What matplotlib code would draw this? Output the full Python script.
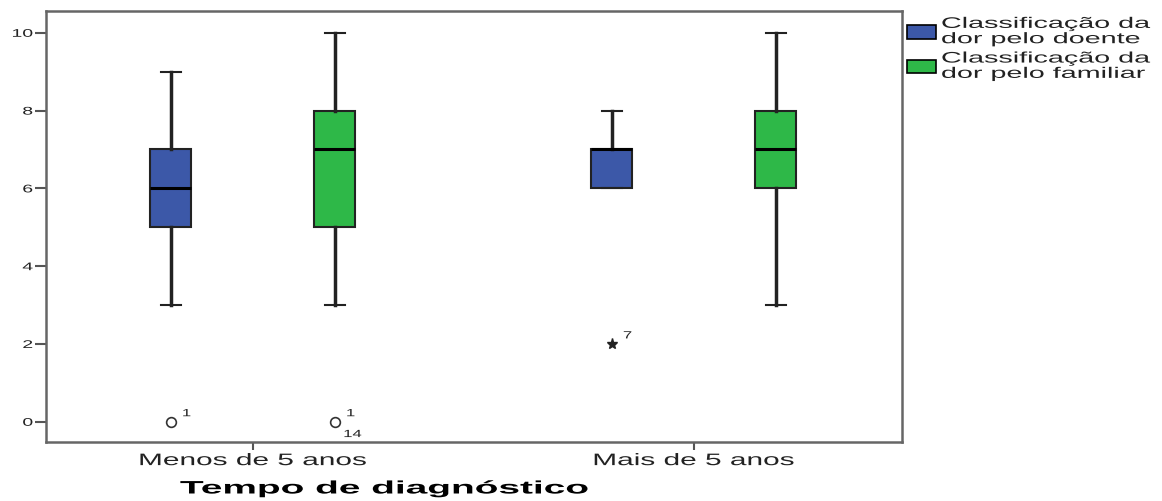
import matplotlib
matplotlib.use('Agg')
import matplotlib.pyplot as plt
from matplotlib.patches import Patch
from matplotlib.patheffects import AbstractPathEffect
from matplotlib.transforms import Affine2D

plt.rcParams['font.family'] = ['Liberation Sans', 'DejaVu Sans']

groups = ['Menos de 5 anos', 'Mais de 5 anos']
series = ['Classificação da\ndor pelo doente', 'Classificação da\ndor pelo familiar']
colors = ['#3c58a8', '#2eb848']

# [whislo, q1, med, q3, whishi] per group, per series
doente = [[3, 5, 6, 7, 9], [6, 6, 7, 7, 8]]
familiar = [[3, 5, 7, 8, 10], [3, 6, 7, 8, 10]]

# outliers: (group, series, value, marker, case labels)
outliers = [(0, 0, 0, 'o', ['1']), (0, 1, 0, 'o', ['1', '14']), (1, 0, 2, '*', ['7'])]


class StretchX(AbstractPathEffect):
    # the source chart has horizontally stretched lettering
    def __init__(self, sx, anchor='center'):
        super().__init__()
        self.sx = sx
        self.anchor = anchor

    def draw_path(self, renderer, gc, tpath, affine, rgbFace=None):
        ext = tpath.get_extents()
        if self.anchor == 'left':
            cx = 0
        elif self.anchor == 'right':
            cx = ext.x1
        else:
            cx = (ext.x0 + ext.x1) / 2
        t = Affine2D().translate(-cx, 0).scale(self.sx, 1).translate(cx, 0) + affine
        renderer.draw_path(gc, tpath, t, rgbFace)


offset = 0.186
width = 0.093

fig = plt.figure(figsize=(11.62, 5.02), dpi=100)
ax = fig.add_axes([46/1162, 1-443/502, (902-46)/1162, (443-12)/502])

for s, data in enumerate([doente, familiar]):
    stats = []
    pos = []
    for g, v in enumerate(data):
        stats.append({'whislo': v[0], 'q1': v[1], 'med': v[2], 'q3': v[3], 'whishi': v[4]})
        pos.append(g + (s - 0.5) * 2 * offset)
    ax.bxp(stats, positions=pos, widths=width, showfliers=False, patch_artist=True,
           boxprops=dict(facecolor=colors[s], edgecolor='#222222', linewidth=1.5),
           medianprops=dict(color='black', linewidth=2.2),
           whiskerprops=dict(color='#222222', linewidth=2.5),
           capprops=dict(color='#222222', linewidth=1.5),
           capwidths=width*0.5, manage_ticks=False)

small = [StretchX(1.6, 'left')]
for g, s, val, mk, labs in outliers:
    x = g + (s - 0.5) * 2 * offset
    if mk == 'o':
        ax.plot(x, val, marker='o', markersize=7, markerfacecolor='white',
                markeredgecolor='#333333', markeredgewidth=1.2, linestyle='none')
    else:
        ax.plot(x, val, marker='*', markersize=8, color='#222222', linestyle='none')
    ax.annotate(labs[0], (x, val), xytext=(8, 4), textcoords='offset points',
                fontsize=7.5, color='#222222', path_effects=small)
    if len(labs) > 1:
        ax.annotate(labs[1], (x, val), xytext=(6, -11), textcoords='offset points',
                    fontsize=7.5, color='#222222', path_effects=small)

ax.set_xlim(-0.469, 1.472)
ax.set_ylim(-0.52, 10.56)
ax.set_xticks([0, 1])
ax.set_xticklabels(groups, fontsize=12, color='#222222')
ax.set_yticks([0, 2, 4, 6, 8, 10])
ax.tick_params(axis='y', labelsize=8, length=8, width=1.5, color='#555555', labelcolor='#222222', pad=1.5)
ax.tick_params(axis='x', length=6, width=1.5, color='#555555', pad=2)
for lab in ax.get_xticklabels():
    lab.set_path_effects([StretchX(1.79)])
for lab in ax.get_yticklabels():
    lab.set_path_effects([StretchX(1.75, 'right')])
for sp in ax.spines.values():
    sp.set_color('#666666')
    sp.set_linewidth(1.8)

fig.text(384/1162, 1-490/502, 'Tempo de diagnóstico', fontsize=13, fontweight='bold',
         ha='center', va='center', color='black', path_effects=[StretchX(2.15)])

handles = [Patch(facecolor=c, edgecolor='black', linewidth=1.2) for c in colors]
leg = ax.legend(handles, series, loc='upper left', bbox_to_anchor=(1.0, 0.997), frameon=False,
                fontsize=11, handlelength=1.9, handleheight=1.0, handletextpad=0.35,
                labelspacing=0.35, borderaxespad=0.0, borderpad=0.3, labelcolor='#222222')
for t in leg.get_texts():
    t.set_linespacing(1.12)
    t.set_path_effects([StretchX(1.88, 'left')])

fig.savefig('out.png', dpi=100)
